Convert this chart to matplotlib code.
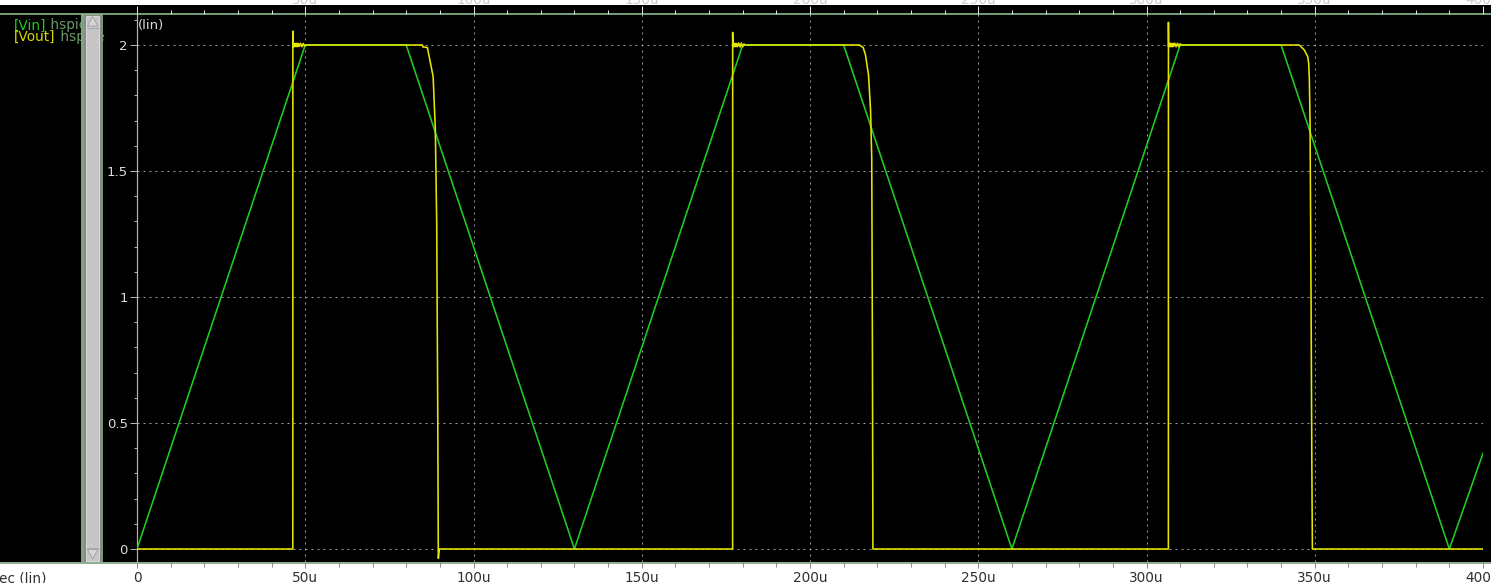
import matplotlib
matplotlib.use("Agg")
import matplotlib.pyplot as plt
from matplotlib.patches import Rectangle, Polygon
from matplotlib.ticker import FixedLocator, MultipleLocator
from matplotlib.transforms import blended_transform_factory

W, H = 1491, 583
DPI = 100
PT = 72.0 / DPI  # points per pixel

# ---- waveform data: time in microseconds, voltage in volts ----
VIN_T = [0, 50, 80, 130, 180, 210, 260, 310, 340, 390, 400]
VIN_V = [0, 2, 2, 0, 2, 2, 0, 2, 2, 0, 0.38]

VOUT_T = [
    0, 46.30, 46.32, 46.36, 46.48, 46.60, 46.72, 46.84, 46.96, 47.08, 47.20,
    47.32, 47.44, 47.56, 47.68, 47.80, 47.92, 48.20, 48.60, 49.00, 49.40,
    49.80, 50.20,
    84.80, 85.00, 86.30, 88.00, 88.65, 89.07, 89.37, 89.55, 89.75, 89.85,
    177.00, 177.02, 177.06, 177.18, 177.30, 177.42, 177.54, 177.66, 177.78,
    177.90, 178.02, 178.14, 178.40, 178.80, 179.20, 179.60, 180.00, 180.40,
    180.70,
    214.70, 215.80, 216.50, 217.40, 218.00, 218.35, 218.55, 218.70,
    306.50, 306.52, 306.56, 306.68, 306.80, 306.92, 307.04, 307.16, 307.28,
    307.40, 307.52, 307.64, 307.76, 307.88, 308.00, 308.40, 308.80, 309.20,
    309.60, 310.00, 310.30,
    345.40, 346.90, 347.90, 348.20, 348.40, 348.60, 348.90, 349.15, 349.30,
    400,
]
VOUT_V = [
    0, 0, 2.055, 1.994, 2.006, 1.994, 2.006, 1.994, 2.006, 1.994, 2.006,
    1.994, 2.006, 1.994, 2.006, 1.994, 2.006, 1.994, 2.007, 1.993, 2.006,
    1.996, 2.0,
    2.0, 1.992, 1.99, 1.875, 1.67, 1.29, 0.55, -0.037, -0.01, 0.0,
    0, 2.05, 1.994, 2.006, 1.994, 2.006, 1.994, 2.006, 1.994,
    2.006, 1.994, 2.006, 1.993, 2.008, 1.992, 2.008, 1.993, 2.004,
    2.0,
    2.0, 1.99, 1.96, 1.88, 1.74, 1.55, 0.8, 0.0,
    0, 2.09, 1.994, 2.006, 1.994, 2.006, 1.994, 2.006, 1.994,
    2.006, 1.994, 2.006, 1.994, 2.006, 1.994, 2.007, 1.993, 2.007,
    1.993, 2.005, 2.0,
    2.0, 1.98, 1.954, 1.927, 1.86, 1.7, 1.0, 0.3, 0.0,
    0,
]

X_MAJOR = [0, 50, 100, 150, 200, 250, 300, 350, 400]
X_LABELS = ["0", "50u", "100u", "150u", "200u", "250u", "300u", "350u", "400u"]
Y_MAJOR = [0, 0.5, 1, 1.5, 2]
Y_LABELS = ["0", "0.5", "1", "1.5", "2"]

# ---- window layout (pixels, y measured downward) ----
X0, X1 = 137, 1483        # t = 0 and t = 400u
Y_TOP, Y_BOT = 14, 562    # plot panel top / bottom
Y2, Y0 = 45, 549          # 2 V and 0 V

px_per_v = (Y0 - Y2) / 2.0
ylo = -(Y_BOT - Y0) / px_per_v
yhi = 2 + (Y2 - Y_TOP) / px_per_v

plt.rcParams["font.family"] = ["DejaVu Sans"]

fig = plt.figure(figsize=(W / DPI, H / DPI), dpi=DPI, facecolor="white")
bg = fig.add_axes([0, 0, 1, 1], zorder=0)
bg.set_xlim(0, W)
bg.set_ylim(H, 0)
bg.axis("off")

# black window body and separators
bg.add_patch(Rectangle((0, 5), W, Y_BOT - 5, facecolor="black", edgecolor="none", zorder=1))
bg.plot([0, W], [13.7, 13.7], color="#8fc08f", lw=1.6 * PT, zorder=6)
bg.plot([0, W], [562.5, 562.5], color="#7a9a7a", lw=1.6 * PT, zorder=6)

# vertical scrollbar
bg.add_patch(Rectangle((80.5, Y_TOP), 3.5, Y_BOT - Y_TOP, facecolor="#78a878", edgecolor="none", zorder=5))
bg.add_patch(Rectangle((84, Y_TOP), 17.5, Y_BOT - Y_TOP, facecolor="#8a8a8a", edgecolor="none", zorder=5))
bg.add_patch(Rectangle((86.3, 15.5), 12.7, 545, facecolor="#c6c6c6", edgecolor="#e4e4e4", lw=0.8 * PT, zorder=5))
bg.add_patch(Rectangle((101.5, Y_TOP), 1.3, Y_BOT - Y_TOP, facecolor="#6e9e6e", edgecolor="none", zorder=5))
bg.add_patch(Polygon([(87.5, 26), (97.8, 26), (92.6, 16.5)], closed=True,
                     facecolor="#d6d6d6", edgecolor="#9c9c9c", lw=0.8 * PT, zorder=6))
bg.plot([86.5, 99], [27.5, 27.5], color="#a4a4a4", lw=0.8 * PT, zorder=6)
bg.add_patch(Polygon([(87.5, 549.5), (97.8, 549.5), (92.6, 559)], closed=True,
                     facecolor="#d6d6d6", edgecolor="#9c9c9c", lw=0.8 * PT, zorder=6))
bg.plot([86.5, 99], [548, 548], color="#a4a4a4", lw=0.8 * PT, zorder=6)

# signal legend
fig.canvas.draw()
renderer = fig.canvas.get_renderer()
for ypix, tag, tag_color in [(29.5, "[Vin]", "#1ecb1e"), (40.5, "[Vout]", "#d8d800")]:
    t1 = bg.text(14, ypix, tag, color=tag_color, fontsize=9.8, va="baseline", ha="left", zorder=2)
    ext = t1.get_window_extent(renderer=renderer)
    xr = bg.transData.inverted().transform((ext.x1, ext.y0))[0]
    bg.text(xr, ypix, " hspice", color="#6a9a6a", fontsize=9.8, va="baseline", ha="left", zorder=2)

bg.text(137.5, 29, "(lin)", color="#dcdcdc", fontsize=9.5, va="baseline", ha="left", zorder=3)
bg.text(47, 582, "sec (lin)", color="#303030", fontsize=9.8, va="baseline", ha="right", zorder=3)

# ---- waveform panel ----
ax = fig.add_axes([X0 / W, (H - Y_BOT) / H, (X1 - X0) / W, (Y_BOT - Y_TOP) / H], zorder=2)
ax.patch.set_visible(False)
ax.set_xlim(0, 400)
ax.set_ylim(ylo, yhi)
for side in ("top", "right", "bottom"):
    ax.spines[side].set_visible(False)
ax.spines["left"].set_color("#a4c2a4")
ax.spines["left"].set_linewidth(1.2 * PT)

ax.xaxis.set_major_locator(FixedLocator(X_MAJOR))
ax.xaxis.set_minor_locator(MultipleLocator(10))
ax.tick_params(axis="x", which="both", direction="out", color="#8c8c8c",
               width=1 * PT, labelbottom=False)
ax.tick_params(axis="x", which="major", length=6 * PT)
ax.tick_params(axis="x", which="minor", length=5 * PT)

ax.set_yticks(Y_MAJOR, Y_LABELS)
ax.yaxis.set_minor_locator(MultipleLocator(0.1))
ax.tick_params(axis="y", which="major", direction="out", length=7 * PT, width=1 * PT,
               color="#a4c2a4", labelcolor="#dcdcdc", labelsize=9.5, pad=2 * PT)
ax.tick_params(axis="y", which="minor", direction="out", length=3 * PT, width=1 * PT,
               color="#a4c2a4")

# top time ruler
sec = ax.secondary_xaxis("top")
sec.xaxis.set_major_locator(FixedLocator(X_MAJOR))
sec.xaxis.set_minor_locator(MultipleLocator(10))
sec.spines["top"].set_visible(False)
sec.tick_params(axis="x", which="both", direction="out", color="#e6e6e6",
                width=1 * PT, labeltop=False)
sec.tick_params(axis="x", which="major", length=8 * PT)
sec.tick_params(axis="x", which="minor", length=4 * PT)

# time labels (bottom ruler and the clipped ones of the ruler above)
xpix = blended_transform_factory(ax.transData, bg.transData)
for xv, lab in zip(X_MAJOR, X_LABELS):
    bg.text(xv, 582.5, lab, transform=xpix, color="#303030", fontsize=9.8,
            ha="center", va="baseline", zorder=3)
    if xv > 0:
        bg.text(xv, 3.5, lab, transform=xpix, color="#cccccc", fontsize=9.8,
                ha="center", va="baseline", zorder=3)

ax.set_axisbelow(True)
ax.grid(True, which="major", color="#a0a0a0", lw=1 * PT, linestyle=(0, (2, 4)))

ax.plot(VIN_T, VIN_V, color="#20cc20", lw=1.6 * PT, zorder=3)
ax.plot(VOUT_T, VOUT_V, color="#e6e600", lw=1.6 * PT, zorder=4)

fig.savefig("out.png", dpi=DPI, facecolor="white")
